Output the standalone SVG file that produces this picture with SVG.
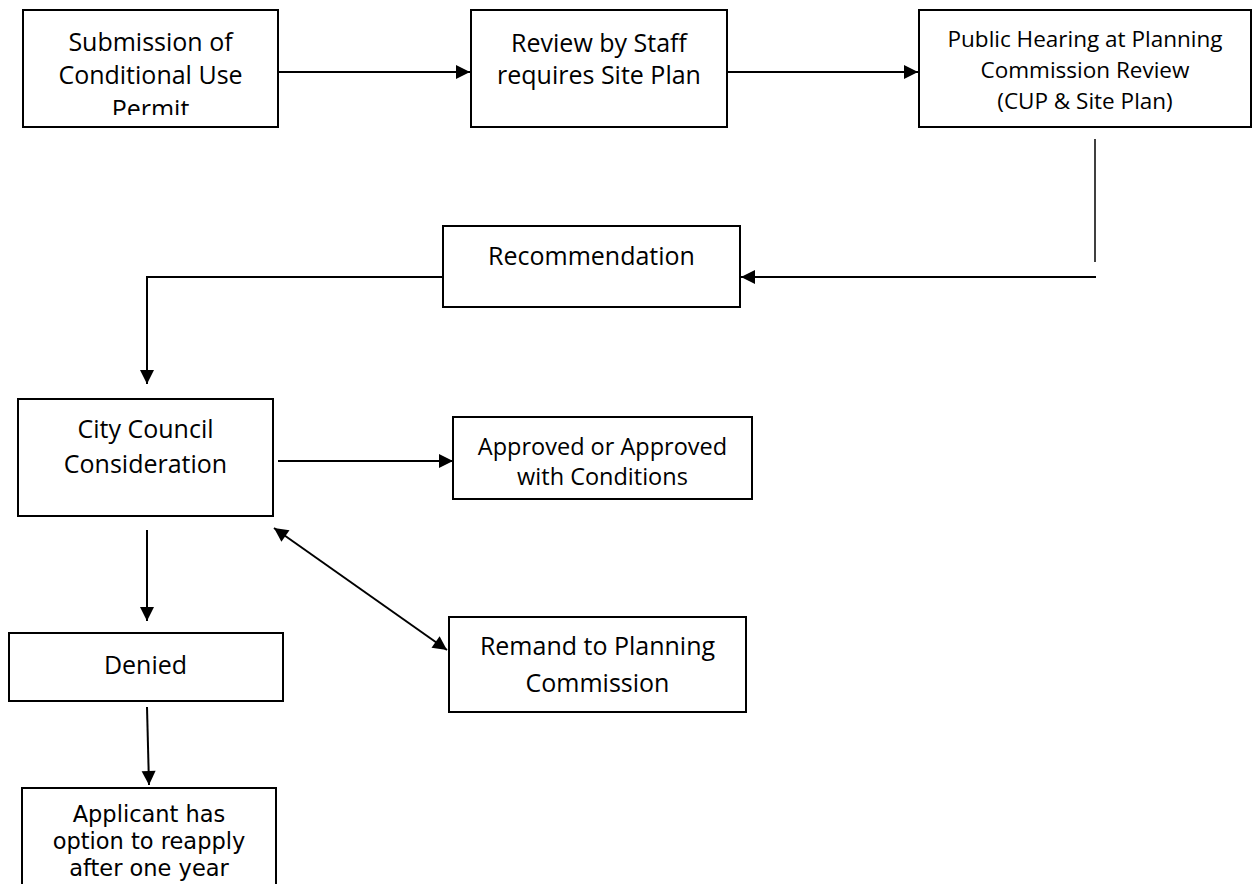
<svg xmlns="http://www.w3.org/2000/svg" width="1252" height="884" viewBox="0 0 1252 884">
<style>
.box{fill:#fff;stroke:#000;stroke-width:2}
.t{font-family:"Open Sans","Liberation Sans",sans-serif;font-size:25px;fill:#000;text-anchor:middle}
.s{font-size:22.5px}
.m{font-size:23.5px}
.a{font-family:"DejaVu Sans","Open Sans",sans-serif;font-size:22.5px}
.c{fill:none;stroke:#000;stroke-width:2}
</style>
<defs>
<marker id="ah" markerUnits="userSpaceOnUse" markerWidth="16" markerHeight="16" viewBox="0 0 16 16" refX="15" refY="8" orient="auto-start-reverse">
<path d="M1,1 L15,8 L1,15 Z" fill="#000"/>
</marker>
<clipPath id="clip1"><rect x="23" y="10" width="255" height="105"/></clipPath>
</defs>
<rect width="1252" height="884" fill="#fff"/>
<g id="connectors">
<line class="c" x1="278" y1="72" x2="470" y2="72" marker-end="url(#ah)"/>
<line class="c" x1="727" y1="72" x2="918" y2="72" marker-end="url(#ah)"/>
<line class="c" x1="1095" y1="139" x2="1095" y2="262" style="stroke-width:1.5"/>
<line class="c" x1="1096" y1="277" x2="741" y2="277" marker-end="url(#ah)"/>
<polyline class="c" points="443,277 147,277 147,384" marker-end="url(#ah)"/>
<line class="c" x1="278" y1="461" x2="453" y2="461" marker-end="url(#ah)"/>
<line class="c" x1="147" y1="530" x2="147" y2="621" marker-end="url(#ah)"/>
<line class="c" x1="147" y1="707" x2="149" y2="785" marker-end="url(#ah)"/>
<line class="c" x1="274" y1="528" x2="447" y2="650" marker-start="url(#ah)" marker-end="url(#ah)"/>
</g>
<g id="submission">
<rect class="box" x="23" y="10" width="255" height="117"/>
<g clip-path="url(#clip1)">
<text class="t" x="150.5" y="51">Submission of</text>
<text class="t" x="150.5" y="84">Conditional Use</text>
<text class="t" x="150.5" y="118">Permit</text>
</g>
</g>
<g id="review">
<rect class="box" x="471" y="10" width="256" height="117"/>
<text class="t" x="599" y="52">Review by Staff</text>
<text class="t" x="599" y="84">requires Site Plan</text>
</g>
<g id="hearing">
<rect class="box" x="919" y="10" width="332" height="117"/>
<text class="t s" x="1085" y="47">Public Hearing at Planning</text>
<text class="t s" x="1085" y="78">Commission Review</text>
<text class="t s" x="1085" y="109">(CUP &amp; Site Plan)</text>
</g>
<g id="recommendation">
<rect class="box" x="443" y="226" width="297" height="81"/>
<text class="t" x="591.5" y="265">Recommendation</text>
</g>
<g id="council">
<rect class="box" x="18" y="399" width="255" height="117"/>
<text class="t" x="145.5" y="438">City Council</text>
<text class="t" x="145.5" y="473">Consideration</text>
</g>
<g id="approved">
<rect class="box" x="453" y="417" width="299" height="82"/>
<text class="t m" x="602.5" y="455">Approved or Approved</text>
<text class="t m" x="602.5" y="485">with Conditions</text>
</g>
<g id="remand">
<rect class="box" x="449" y="617" width="297" height="95"/>
<text class="t" x="597.5" y="655">Remand to Planning</text>
<text class="t" x="597.5" y="692">Commission</text>
</g>
<g id="denied">
<rect class="box" x="9" y="633" width="274" height="68"/>
<text class="t" x="145.5" y="674">Denied</text>
</g>
<g id="applicant">
<rect class="box" x="22" y="788" width="254" height="110"/>
<text class="t a" x="149" y="822">Applicant has</text>
<text class="t a" x="149" y="849">option to reapply</text>
<text class="t a" x="149" y="876">after one year</text>
</g>
</svg>
